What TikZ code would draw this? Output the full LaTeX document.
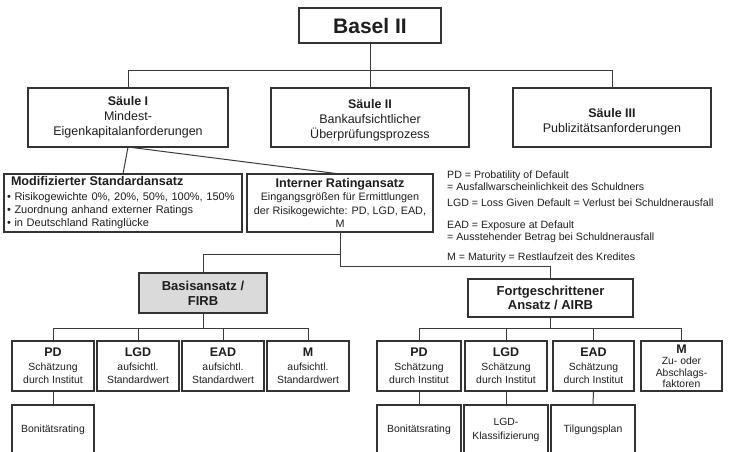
\documentclass[tikz,border=0pt]{standalone}
\usepackage{fontspec}
\setmainfont{Liberation Sans}
\definecolor{ink}{HTML}{1E1E1E}
\definecolor{frame}{HTML}{333333}
\definecolor{linkc}{HTML}{3A3A3A}
\definecolor{firbfill}{HTML}{DADADA}
\newcommand{\toppad}[2]{\raisebox{0pt}[\dimexpr\height+#1\relax]{#2}}
\tikzset{
  box/.style={draw=frame, line width=1.4pt, fill=white, text=ink, align=center, inner sep=0pt, outer sep=0pt},
  link/.style={draw=linkc, line width=1pt},
  saulefont/.style={font=\fontsize{12.5}{15}\selectfont},
  smallfont/.style={font=\fontsize{10.4}{13.5}\selectfont},
  legendtext/.style={text=ink, anchor=base west, inner sep=0pt, align=left, font=\fontsize{10.6}{11.5}\selectfont},
  lowbox/.style={box, smallfont, minimum height=50pt},
}
\begin{document}
\begin{tikzpicture}[x=1pt,y=-1pt]
\useasboundingbox (0,0) rectangle (734,451);
\clip (0,0) rectangle (734,451);

% top
\node[box, minimum width=142pt, minimum height=35pt, font=\fontsize{21}{24}\selectfont\bfseries] (basel) at (370,25.5) {Basel II};

\node[box, saulefont, minimum width=200pt, minimum height=59pt] (s1) at (128,117.5) {\textbf{Säule I}\\Mindest-\\Eigenkapitalanforderungen};
\node[box, saulefont, minimum width=198pt, minimum height=59pt] (s2) at (370,117.5) {\toppad{6pt}{\textbf{Säule II}}\\Bankaufsichtlicher\\Überprüfungsprozess};
\node[box, saulefont, minimum width=198pt, minimum height=59pt] (s3) at (612,117.5) {\toppad{8pt}{\textbf{Säule III}}\\Publizitätsanforderungen};

\draw[link] (basel.south) -- (s2.north);
\draw[link] (s1.north) -- ++(0,-18) -| (s3.north);

% middle
\node[box, minimum width=238pt, minimum height=58pt, text width=232pt, align=left, font=\fontsize{11}{13}\selectfont] (mod) at (123,203)
  {{\fontsize{12.6}{13}\selectfont\bfseries\hspace{4pt}Modifizierter Standardansatz}\\[2pt]
   • Risikogewichte 0\%, 20\%, 50\%, 100\%, 150\%\\
   • Zuordnung anhand externer Ratings\\
   • in Deutschland Ratinglücke};
\node[box, minimum width=186pt, minimum height=58pt, font=\fontsize{10.8}{13.5}\selectfont] (irb) at (340,203)
  {{\fontsize{12.6}{13.5}\selectfont\bfseries Interner Ratingansatz}\\
   Eingangsgrößen für Ermittlungen\\
   der Risikogewichte: PD, LGD, EAD,\\
   M};

\draw[link] (s1.south) -- (mod.north);
\draw[link] (s1.south) -- (irb.north);

% legend
\node[legendtext] (legpd) at (447,190.2) {PD = Probatility of Default\\= Ausfallwarscheinlichkeit des Schuldners};
\node[legendtext] (leglgd) at (447,206.8) {LGD = Loss Given Default = Verlust bei Schuldnerausfall};
\node[legendtext] (legead) at (447,240.4) {EAD = Exposure at Default\\= Ausstehender Betrag bei Schuldnerausfall};
\node[legendtext] (legm) at (447,260.8) {M = Maturity = Restlaufzeit des Kredites};

% approaches
\node[box, fill=firbfill, minimum width=128pt, minimum height=40pt, font=\fontsize{13}{15}\selectfont\bfseries] (firb) at (203,293) {Basisansatz /\\FIRB};
\node[box, minimum width=165pt, minimum height=38pt, font=\fontsize{13}{14}\selectfont\bfseries] (airb) at (550.5,298) {Fortgeschrittener\\Ansatz / AIRB};

\draw[link] (irb.south) -- ++(0,22) -| (firb.north);
\draw[link] (irb.south) -- ++(0,34) -| (airb.north);

% left components
\node[lowbox, minimum width=82pt] (lpd) at (53,366) {{\fontsize{12.5}{13.5}\selectfont\bfseries PD}\\Schätzung\\durch Institut};
\node[lowbox, minimum width=82pt] (llgd) at (138,366) {{\fontsize{12.5}{13.5}\selectfont\bfseries LGD}\\aufsichtl.\\Standardwert};
\node[lowbox, minimum width=82pt] (lead) at (223,366) {{\fontsize{12.5}{13.5}\selectfont\bfseries EAD}\\aufsichtl.\\Standardwert};
\node[lowbox, minimum width=82pt] (lm) at (308,366) {{\fontsize{12.5}{13.5}\selectfont\bfseries M}\\aufsichtl.\\Standardwert};

\foreach \n in {lpd,llgd,lead,lm} \draw[link] (firb.south) -- ++(0,15) -| (\n.north);

% right components
\node[lowbox, minimum width=84pt] (rpd) at (419,366) {{\fontsize{12.5}{13.5}\selectfont\bfseries PD}\\Schätzung\\durch Institut};
\node[lowbox, minimum width=82pt] (rlgd) at (506,366) {{\fontsize{12.5}{13.5}\selectfont\bfseries LGD}\\Schätzung\\durch Institut};
\node[lowbox, minimum width=81pt] (read) at (593.5,366) {{\fontsize{12.5}{13.5}\selectfont\bfseries EAD}\\Schätzung\\durch Institut};
\node[lowbox, minimum width=81pt, font=\fontsize{10.4}{11.5}\selectfont] (rm) at (681.5,366) {{\fontsize{12.5}{11.5}\selectfont\bfseries M}\\Zu- oder\\Abschlags-\\faktoren};

\foreach \n in {rpd,rlgd,read,rm} \draw[link] (airb.south) -- ++(0,11) -| (\n.north);

% bottom row
\node[lowbox, minimum width=82pt] (lbon) at (53,430) {Bonitätsrating};
\node[lowbox, minimum width=84pt] (rbon) at (419,430) {Bonitätsrating};
\node[lowbox, minimum width=84pt] (rlgdk) at (506,430) {LGD-\\Klassifizierung};
\node[lowbox, minimum width=84pt] (rtilg) at (593,430) {Tilgungsplan};

\draw[link] (lpd.south) -- (lbon.north);
\draw[link] (rpd.south) -- (rbon.north);
\draw[link] (rlgd.south) -- (rlgdk.north);
\draw[link] (read.south) -- (rtilg.north);
\end{tikzpicture}
\end{document}
